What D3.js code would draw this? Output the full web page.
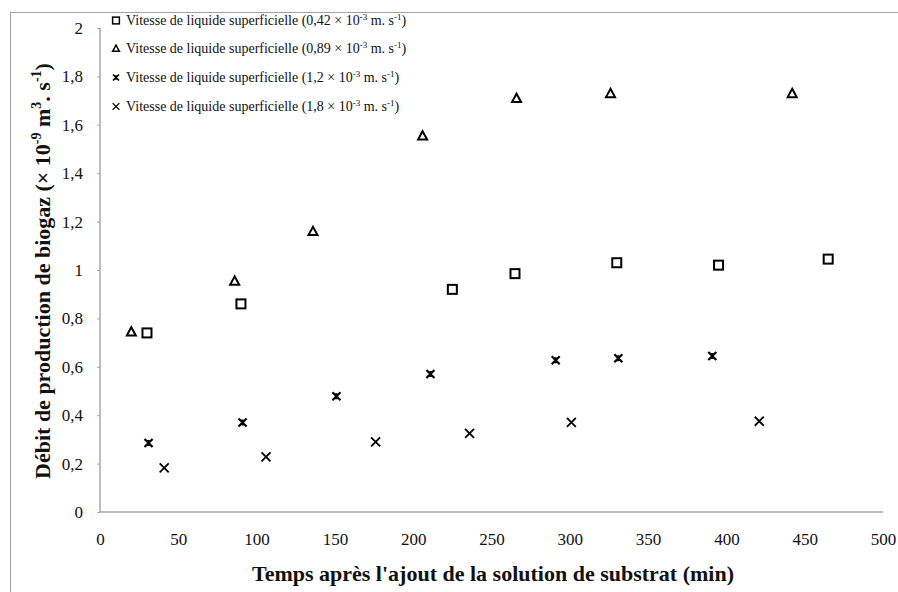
<!DOCTYPE html>
<html><head><meta charset="utf-8">
<script src="https://cdn.jsdelivr.net/npm/d3@7"></script>
<style>body{margin:0;background:#fff}svg{display:block}
svg text{font-family:"Liberation Serif","DejaVu Serif",serif !important}</style>
</head><body>
<svg id="c" width="898" height="592"></svg>
<script>
const xTicks = [0,50,100,150,200,250,300,350,400,450,500];
const yTicks = [0,0.2,0.4,0.6,0.8,1,1.2,1.4,1.6,1.8,2];
const seriesNames = ["0,42","0,89","1,2","1,8"];
const s042_x = [30,90,225,265,330,395,465];
const s042_y = [0.74,0.86,0.92,0.985,1.03,1.02,1.045];
const s089_x = [20,86,136,206,266,326,442];
const s089_y = [0.745,0.955,1.16,1.555,1.71,1.73,1.73];
const s12_x = [31,91,151,211,291,331,391];
const s12_y = [0.285,0.37,0.478,0.57,0.627,0.635,0.645];
const s18_x = [41,106,176,236,301,421];
const s18_y = [0.182,0.228,0.29,0.325,0.37,0.375];

const svg = d3.select("#c");
const x = d3.scaleLinear().domain([0,500]).range([100,883]);
const y = d3.scaleLinear().domain([0,2]).range([512,28]);

// frame
svg.append("line").attr("x1",10).attr("x2",898).attr("y1",12.5).attr("y2",12.5).attr("stroke","#a0a0a0");
svg.append("line").attr("x1",10.5).attr("x2",10.5).attr("y1",12).attr("y2",592).attr("stroke","#a0a0a0");

// axes
const xa = svg.append("g").attr("transform","translate(0,512)")
  .call(d3.axisBottom(x).tickValues(xTicks).tickSize(0).tickPadding(21).tickFormat(d=>d));
const ya = svg.append("g").attr("transform","translate(100,0)")
  .call(d3.axisLeft(y).tickValues(yTicks).tickSize(3).tickPadding(14).tickFormat(d=>String(d).replace(".",",")));
[xa,ya].forEach(g=>{
  g.select(".domain").attr("stroke","#a8a8a8").attr("stroke-width",1.5);
  g.selectAll(".tick line").attr("stroke","#a8a8a8");
  g.selectAll("text").attr("font-size",17).attr("fill","#111");
});
ya.select(".domain").attr("d","M0,28V512");
xa.select(".domain").attr("d","M100,0H883");

// axis titles
svg.append("text").attr("x",493).attr("y",581).attr("text-anchor","middle")
  .attr("font-size",22).attr("font-weight","bold").attr("fill","#111")
  .text("Temps après l'ajout de la solution de substrat (min)");
const yt = svg.append("text").attr("transform","translate(50,271) rotate(-90)").attr("text-anchor","middle")
  .attr("font-size",22).attr("font-weight","bold").attr("fill","#111");
yt.append("tspan").text("Débit de production de biogaz (× 10");
yt.append("tspan").attr("font-size",14).attr("dy",-9).text("-9");
yt.append("tspan").attr("dy",9).text(" m");
yt.append("tspan").attr("font-size",14).attr("dy",-9).text("3");
yt.append("tspan").attr("dy",9).text(". s");
yt.append("tspan").attr("font-size",14).attr("dy",-9).text("-1");
yt.append("tspan").attr("dy",9).text(")");

// markers
function drawMarker(g, type){
  const sw = 2;
  if(type===0){
    g.append("rect").attr("x",-4.5).attr("y",-4.5).attr("width",9).attr("height",9)
     .attr("fill","#fff").attr("stroke","#000").attr("stroke-width",sw);
  } else if(type===1){
    g.append("path").attr("d","M0,-4.5L4.5,3.8L-4.5,3.8Z").attr("fill","#fff").attr("stroke","#000").attr("stroke-width",sw).attr("stroke-linejoin","miter");
  } else if(type===2){
    g.append("path").attr("d","M-4,-4L4,4M-4,4L4,-4M0,-3V3").attr("stroke","#000").attr("stroke-width",2.2);
  } else {
    g.append("path").attr("d","M-4.5,-4.5L4.5,4.5M-4.5,4.5L4.5,-4.5").attr("stroke","#000").attr("stroke-width",1.8);
  }
}
const allSeries = [[s042_x,s042_y],[s089_x,s089_y],[s12_x,s12_y],[s18_x,s18_y]];
allSeries.forEach((s,i)=>{
  s[0].forEach((xv,j)=>{
    const g = svg.append("g").attr("transform",`translate(${x(xv)},${y(s[1][j])})`);
    drawMarker(g,i);
  });
});

// legend
const legY = [25,53,82,111];
seriesNames.forEach((n,i)=>{
  const g = svg.append("g").attr("transform",`translate(116,${legY[i]-4.5})`);
  g.append("g").attr("transform","scale(0.75)").call(gg=>drawMarker(gg,i));
  const t = svg.append("text").attr("x",126).attr("y",legY[i]).attr("font-size",14).attr("fill","#111");
  t.append("tspan").text(`Vitesse de liquide superficielle (${n} × 10`);
  t.append("tspan").attr("font-size",9).attr("dy",-5).text("-3");
  t.append("tspan").attr("dy",5).text(" m. s");
  t.append("tspan").attr("font-size",9).attr("dy",-5).text("-1");
  t.append("tspan").attr("dy",5).text(")");
});
</script>
</body></html>
